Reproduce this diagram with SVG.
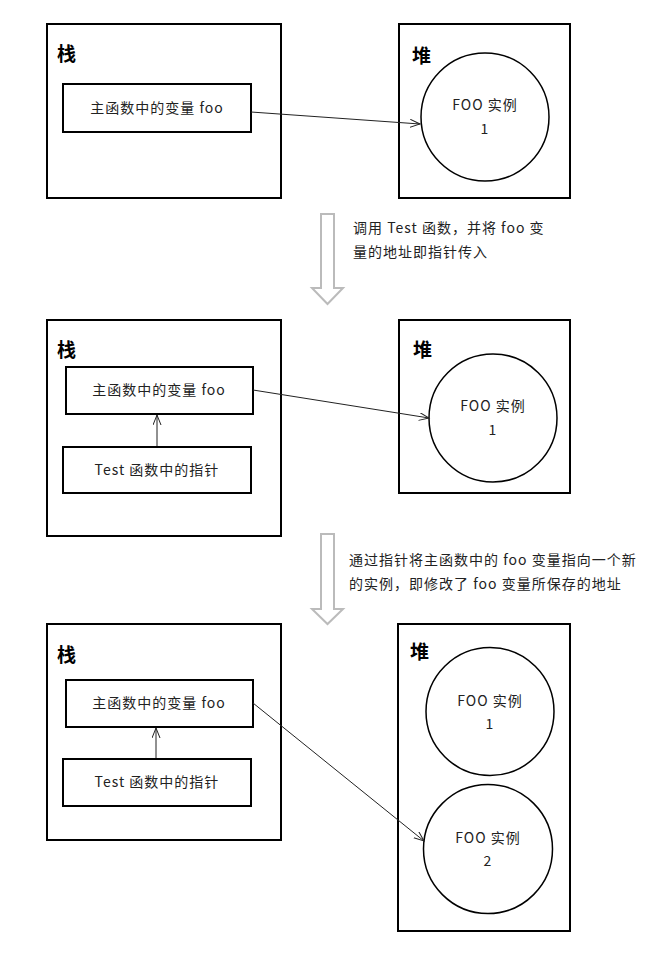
<svg xmlns="http://www.w3.org/2000/svg" width="653" height="953" viewBox="0 0 653 953">
<defs>
<style>
.panel{fill:#fff;stroke:#000;stroke-width:2}
.box{fill:#fff;stroke:#000;stroke-width:2}
.circ{fill:#fff;stroke:#000;stroke-width:1.5}
.title{font-family:"Noto Sans CJK SC","Noto Sans",sans-serif;font-size:19px;font-weight:bold;fill:#000}
.t{font-family:"Noto Sans CJK SC","Noto Sans",sans-serif;font-size:14px;fill:#222;letter-spacing:1px}
.c{text-anchor:middle}
.conn{stroke:#222;stroke-width:1;fill:none}
.big{fill:#fff;stroke:#bbb;stroke-width:2}
</style>
<marker id="ah" markerWidth="12" markerHeight="10" refX="10" refY="4" orient="auto" markerUnits="userSpaceOnUse">
<path d="M0,0 L10,4 L0,8" fill="none" stroke="#222" stroke-width="1"/>
</marker>
</defs>
<rect width="653" height="953" fill="#fff"/>

<!-- Panel 1 -->
<g id="stack1">
<rect class="panel" x="47" y="24" width="234" height="174"/>
<text class="title" x="57" y="61">栈</text>
</g>
<g id="main-foo-1">
<rect class="box" x="63" y="84" width="188" height="48"/>
<text class="t c" x="157" y="113">主函数中的变量 foo</text>
</g>
<g id="heap1">
<rect class="panel" x="399" y="24" width="171" height="174"/>
<text class="title" x="412" y="63">堆</text>
</g>
<g id="foo-inst-1a">
<circle class="circ" cx="485" cy="117" r="64"/>
<text class="t c" x="485" y="110">FOO 实例</text>
<text class="t c" x="485" y="134">1</text>
</g>

<g id="step1">
<polygon class="big" points="321,214 334,214 334,288 343,288 327.5,304 312,288 321,288"/>
<text class="t" x="353" y="233">调用 Test 函数，并将 foo 变</text>
<text class="t" x="353" y="257">量的地址即指针传入</text>
</g>

<!-- Panel 2 -->
<g id="stack2">
<rect class="panel" x="47" y="320" width="234" height="216"/>
<text class="title" x="57" y="357">栈</text>
</g>
<g id="main-foo-2">
<rect class="box" x="66" y="367" width="187" height="47"/>
<text class="t c" x="159" y="395">主函数中的变量 foo</text>
</g>
<g id="test-ptr-2">
<rect class="box" x="63" y="447" width="188" height="46"/>
<text class="t c" x="157" y="475">Test 函数中的指针</text>
</g>
<g id="heap2">
<rect class="panel" x="399" y="320" width="171" height="173"/>
<text class="title" x="413" y="357">堆</text>
</g>
<g id="foo-inst-1b">
<circle class="circ" cx="493" cy="418" r="64"/>
<text class="t c" x="493" y="411">FOO 实例</text>
<text class="t c" x="493" y="435">1</text>
</g>

<g id="step2">
<polygon class="big" points="321,534 334,534 334,609 343,609 327.5,624 312,609 321,609"/>
<text class="t" x="349" y="565">通过指针将主函数中的 foo 变量指向一个新</text>
<text class="t" x="349" y="589">的实例，即修改了 foo 变量所保存的地址</text>
</g>

<!-- Panel 3 -->
<g id="stack3">
<rect class="panel" x="47" y="624" width="234" height="216"/>
<text class="title" x="57" y="662">栈</text>
</g>
<g id="main-foo-3">
<rect class="box" x="66" y="680" width="187" height="47"/>
<text class="t c" x="159" y="708">主函数中的变量 foo</text>
</g>
<g id="test-ptr-3">
<rect class="box" x="63" y="759" width="188" height="47"/>
<text class="t c" x="157" y="787">Test 函数中的指针</text>
</g>
<g id="heap3">
<rect class="panel" x="398" y="624" width="172" height="307"/>
<text class="title" x="410" y="659">堆</text>
</g>
<g id="foo-inst-1c">
<circle class="circ" cx="490" cy="711.5" r="64"/>
<text class="t c" x="490" y="706">FOO 实例</text>
<text class="t c" x="490" y="729">1</text>
</g>
<g id="foo-inst-2">
<circle class="circ" cx="488" cy="849" r="64.5"/>
<text class="t c" x="488" y="843">FOO 实例</text>
<text class="t c" x="488" y="866">2</text>
</g>

<g id="connectors">
<line class="conn" x1="251" y1="112" x2="420" y2="124" marker-end="url(#ah)" stroke-width="1.3"/>
<line class="conn" x1="253" y1="390" x2="429" y2="418" marker-end="url(#ah)"/>
<line class="conn" x1="157" y1="446" x2="157" y2="415" marker-end="url(#ah)"/>
<line class="conn" x1="253" y1="703" x2="424" y2="841" marker-end="url(#ah)"/>
<line class="conn" x1="156" y1="758" x2="156" y2="728" marker-end="url(#ah)"/>
</g>
</svg>
